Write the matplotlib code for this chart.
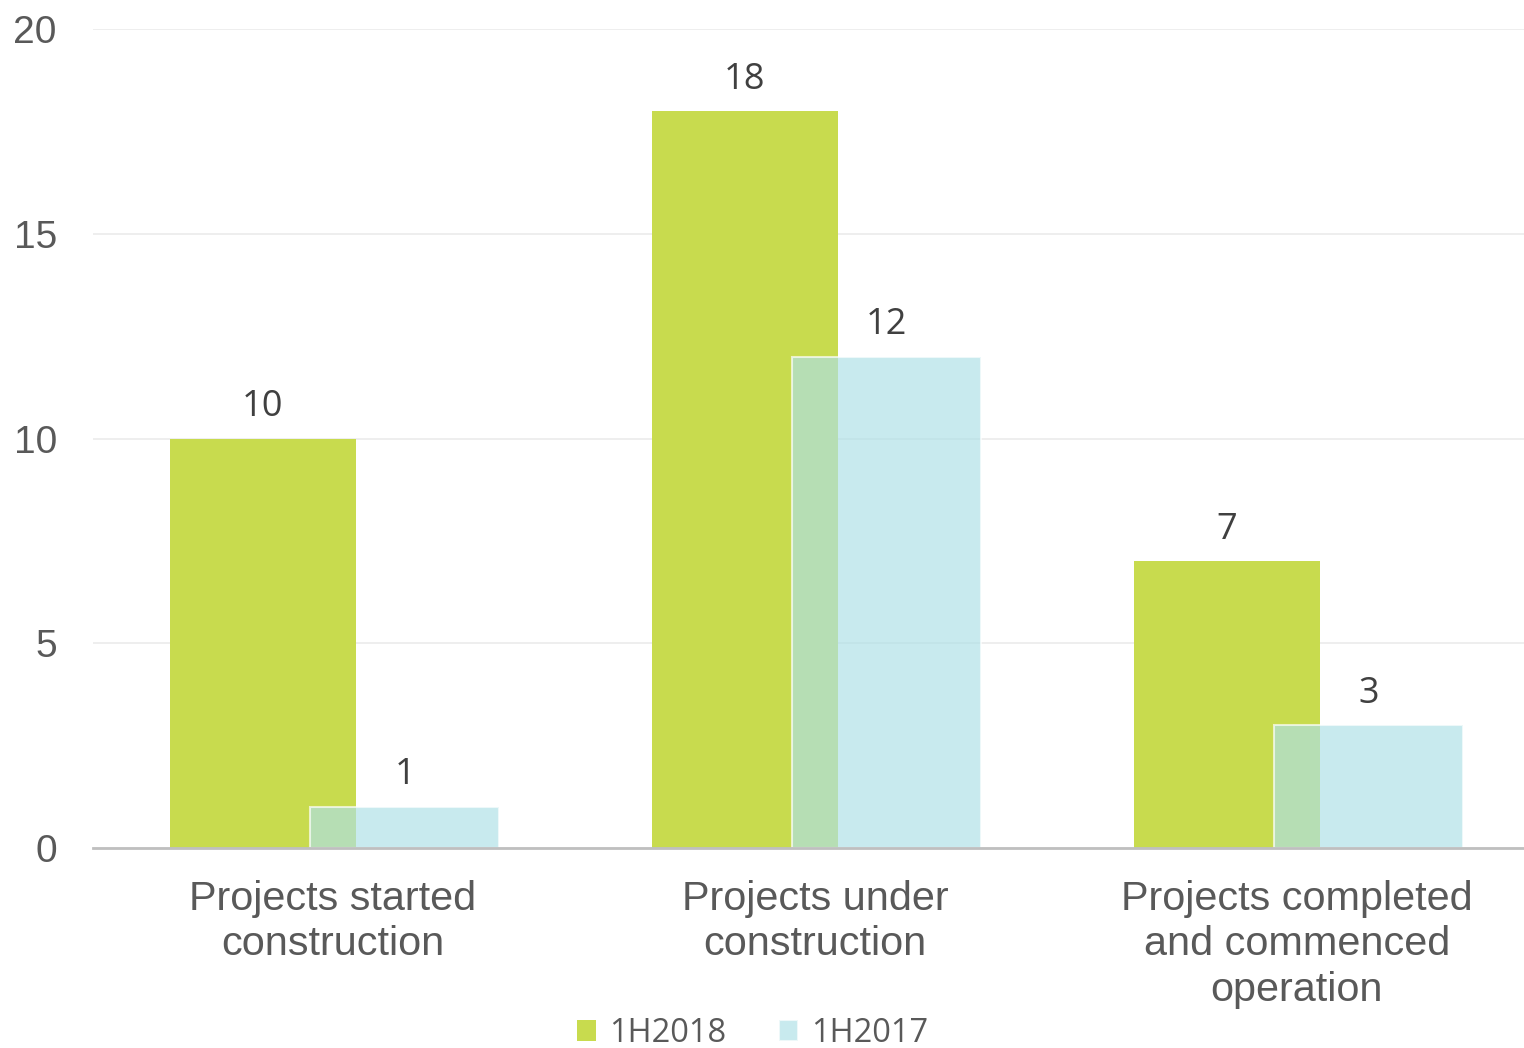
import matplotlib
matplotlib.use("Agg")
import matplotlib.pyplot as plt
import numpy as np

categories = ["Projects started\nconstruction", "Projects under\nconstruction",
              "Projects completed\nand commenced\noperation"]
series_names = ["1H2018", "1H2017"]
values_2018 = [10, 18, 7]
values_2017 = [1, 12, 3]

green = "#C8DB4E"
blue = "#AEE0E6"

fig = plt.figure(figsize=(15.24, 10.48), dpi=100)
ax = fig.add_axes([0.061, 0.191, 0.939, 0.781])

x = np.arange(len(categories))
off = 0.146
b1 = ax.bar(x - off, values_2018, width=0.386, color=green, label=series_names[0], zorder=2)
b2 = ax.bar(x + off + 0.003, values_2017, width=0.392, color=blue, alpha=0.68, edgecolor="white",
            linewidth=1.5, label=series_names[1], zorder=3)

# value labels above bars
for bars, vals in [(b1, values_2018), (b2, values_2017)]:
    for rect, v in zip(bars, vals):
        ax.text(rect.get_x() + rect.get_width() / 2, v + 0.33, str(v), ha="center", va="bottom",
                fontsize=26, color="#404040", family="Open Sans")

ax.set_ylim(0, 20)
ax.set_xlim(-0.498, 2.471)
ax.set_yticks([0, 5, 10, 15, 20])
ax.yaxis.grid(True, color="#EBEBEB", linewidth=1.2, zorder=0)
ax.set_axisbelow(True)
for s in ["top", "right", "left"]:
    ax.spines[s].set_visible(False)
ax.spines["bottom"].set_color("#BFBFBF")
ax.spines["bottom"].set_linewidth(2)
ax.spines["bottom"].set_zorder(4)

ax.set_xticks(x)
ax.set_xticklabels(categories, fontsize=29.8, color="#595959", family="Liberation Sans",
                   linespacing=1.25)
ax.tick_params(axis="x", length=0, pad=23)
ax.tick_params(axis="y", length=0, pad=26, labelsize=28, labelcolor="#595959")
for lab in ax.get_yticklabels():
    lab.set_family("Liberation Sans")

leg = fig.legend(handles=[b1, b2], labels=series_names, loc="center",
                 bbox_to_anchor=(0.4938, 0.0138), ncol=2, frameon=False,
                 prop={"family": "Open Sans", "size": 23.5}, handlelength=0.58, handleheight=0.58,
                 handletextpad=0.4, columnspacing=1.6, borderpad=0)
for t in leg.get_texts():
    t.set_color("#595959")

fig.savefig("out.png", dpi=100)
